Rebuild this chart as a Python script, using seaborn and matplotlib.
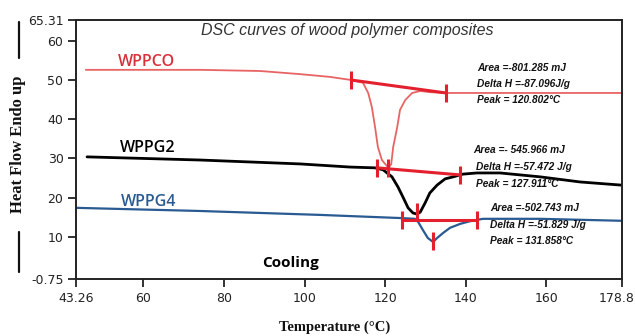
import matplotlib
matplotlib.use("Agg")
import matplotlib.pyplot as plt
import matplotlib.transforms as mtransforms
from matplotlib.lines import Line2D
import seaborn as sns

# ---------------- data ----------------
wppco_T = [45.7, 74.0, 89.0, 98.9, 106.3, 111.6, 114.5, 115.8, 116.7, 117.5, 118.2, 119.2, 120.8,
           121.5, 122.0, 123.0, 123.7, 125.0, 126.7, 128.7, 131.1, 134.9, 178.6]
wppco_H = [52.6, 52.6, 52.3, 51.5, 50.8, 50.0, 49.3, 46.7, 43.1, 38.0, 32.9, 29.6, 27.6,
           28.5, 32.9, 38.0, 42.4, 44.9, 46.7, 47.2, 46.9, 46.7, 46.7]

wppg2_T = [46.0, 74.0, 98.9, 111.3, 117.5, 119.5, 121.7, 123.2, 124.4, 125.7, 126.9, 127.9,
           128.7, 129.9, 131.1, 132.9, 134.9, 136.9, 139.3, 142.8, 148.5, 158.5, 168.4, 178.6]
wppg2_H = [30.4, 29.6, 28.6, 27.8, 27.6, 27.1, 25.3, 22.7, 20.2, 17.4, 16.1, 15.8,
           16.3, 18.6, 21.2, 23.2, 24.8, 25.3, 26.0, 26.3, 26.3, 25.3, 24.0, 23.2]

wppg4_T = [43.3, 74.0, 103.8, 123.7, 127.4, 128.2, 129.4, 130.6, 131.9,
           132.9, 134.4, 136.1, 138.6, 141.1, 144.3, 158.5, 178.6]
wppg4_H = [17.4, 16.6, 15.6, 14.8, 14.6, 13.8, 11.7, 9.7, 8.7,
           9.7, 11.0, 12.3, 13.3, 14.0, 14.6, 14.6, 14.1]

# integration baselines (start, end) and peak markers
base_wppco_T = [111.6, 135.1]
base_wppco_H = [50.0, 46.7]
base_wppg2_T = [118.0, 138.6]
base_wppg2_H = [27.6, 25.8]
base_wppg4_T = [124.2, 142.8]
base_wppg4_H = [14.3, 14.3]
peak_T = [120.8, 127.9, 131.9]
peak_H = [27.6, 16.3, 8.9]

series_names = ["WPPCO", "WPPG2", "WPPG4"]
info_texts = [
    ["Area =-801.285 mJ", "Delta H =-87.096J/g", "Peak = 120.802°C"],
    ["Area =- 545.966 mJ", "Delta H =-57.472 J/g", "Peak = 127.911°C"],
    ["Area =-502.743 mJ", "Delta H =-51.829 J/g", "Peak = 131.858°C"],
]

x_ticks = [43.26, 60, 80, 100, 120, 140, 160, 178.8]
x_ticklabels = ["43.26", "60", "80", "100", "120", "140", "160", "178.8"]
y_ticks = [-0.75, 10, 20, 30, 40, 50, 60, 65.31]
y_ticklabels = ["-0.75", "10", "20", "30", "40", "50", "60", "65.31"]

title = "DSC curves of wood polymer composites"
x_label = "Temperature (°C)"
y_label = "Heat Flow Endo up"
note = "Cooling"

# ---------------- styling ----------------
sns.set_theme(style="white")
plt.rcParams["font.family"] = ["DejaVu Sans"]

fig = plt.figure(figsize=(6.35, 3.36), dpi=100)
ax = fig.add_axes([76 / 635, 1 - 279 / 336, 546 / 635, 259 / 336])

red_thin = "#e86464"
red_base = "#e3202e"
blue = "#2a5a92"

sns.lineplot(x=wppco_T, y=wppco_H, sort=False, estimator=None, ax=ax, color=red_thin, linewidth=1.3)
sns.lineplot(x=wppg2_T, y=wppg2_H, sort=False, estimator=None, ax=ax, color="black", linewidth=2.0)
sns.lineplot(x=wppg4_T, y=wppg4_H, sort=False, estimator=None, ax=ax, color=blue, linewidth=1.6)

for bT, bH in [(base_wppco_T, base_wppco_H), (base_wppg2_T, base_wppg2_H), (base_wppg4_T, base_wppg4_H)]:
    sns.lineplot(x=bT, y=bH, sort=False, estimator=None, ax=ax, color=red_base, linewidth=2.2,
                 marker="|", markersize=13, markeredgewidth=2.2, markeredgecolor=red_base)

sns.scatterplot(x=peak_T, y=peak_H, ax=ax, marker="|", s=150, linewidth=2.2, color=red_base, zorder=5)

ax.set_xlim(x_ticks[0], x_ticks[-1])
ax.set_ylim(y_ticks[0], y_ticks[-1])
ax.set_xticks(x_ticks)
ax.set_xticklabels(x_ticklabels)
ax.set_yticks(y_ticks)
ax.set_yticklabels(y_ticklabels)
ax.tick_params(axis="both", direction="out", length=6, width=1.3, color="#222222",
               labelsize=9, labelcolor="#222222", pad=3, bottom=True, left=True)
# keep the last x tick label inside the picture
last = ax.get_xticklabels()[-1]
last.set_transform(last.get_transform() + mtransforms.ScaledTranslation(-5 / 100, 0, fig.dpi_scale_trans))

for sp in ax.spines.values():
    sp.set_visible(True)
    sp.set_color("#222222")
    sp.set_linewidth(1.4)

# title inside the axes
ax.text(0.496, 0.961, title, transform=ax.transAxes, ha="center", va="center",
        fontsize=11.5, style="italic", color="#333333", family="Liberation Sans")

# series labels
label_pos = [(53.7, 54.6, "#d8313a"), (54.2, 32.7, "black"), (54.4, 18.9, blue)]
for name, (tx, hy, c) in zip(series_names, label_pos):
    ax.text(tx, hy, name, color=c, fontsize=11.5, ha="left", va="center", family="Open Sans",
            fontweight="semibold")

ax.text(89.4, 3.3, note, color="black", fontsize=11, ha="left", va="center",
        family="Open Sans", fontweight="bold")

# peak info texts
info_pos = [
    [(142.8, 53.1), (142.8, 49.0), (142.8, 44.9)],
    [(141.8, 32.2), (142.5, 27.8), (142.5, 23.5)],
    [(146.0, 17.4), (146.0, 13.0), (146.0, 8.9)],
]
for lines, poss in zip(info_texts, info_pos):
    for t, (tx, hy) in zip(lines, poss):
        ax.text(tx, hy, t, fontsize=7.3, style="italic", fontweight="bold", ha="left", va="center",
                color="#111111", family="Liberation Sans")

# axis labels
ax.set_xlabel(x_label, fontsize=10.5, fontweight="bold", family="Liberation Serif", color="#111111")
ax.xaxis.set_label_coords((335 - 76) / 546, -(327 - 279) / 259)
ax.xaxis.label.set_va("center")
ax.set_ylabel(y_label, fontsize=12, fontweight="bold", family="Liberation Serif", color="#111111")
ax.yaxis.set_label_coords((18 - 76) / 546, (279 - 144) / 259)
ax.yaxis.label.set_va("center")

# decorative bars flanking the y label
for y0, y1 in [(22, 58), (232, 272)]:
    fig.add_artist(Line2D([19 / 635, 19 / 635], [1 - y0 / 336, 1 - y1 / 336],
                          transform=fig.transFigure, color="#111111", linewidth=1.6))

fig.savefig("out.png", dpi=100)
